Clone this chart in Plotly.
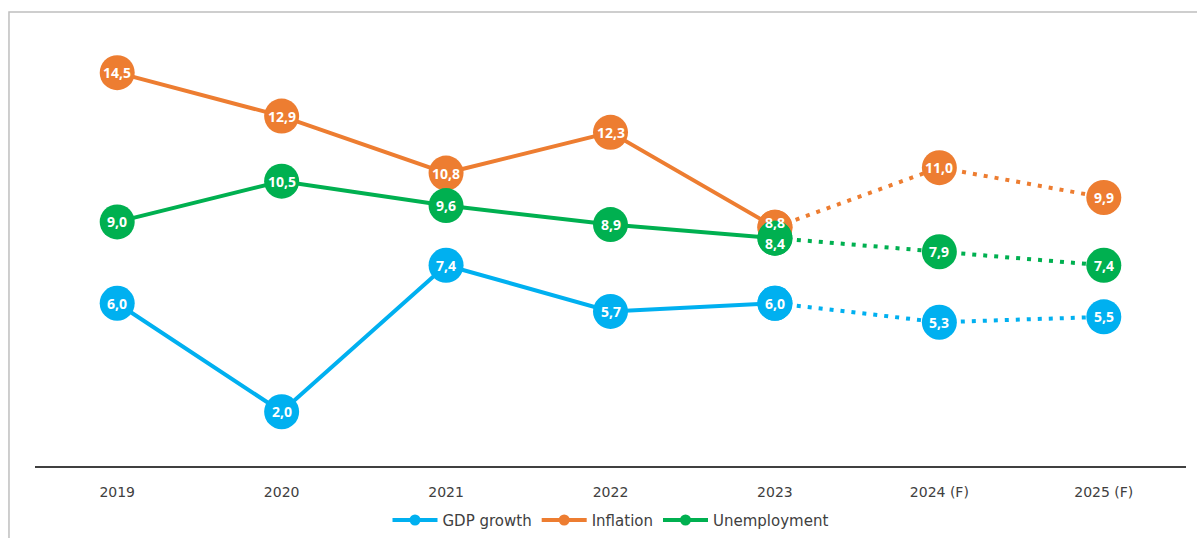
import plotly.graph_objects as go

years = ["2019", "2020", "2021", "2022", "2023", "2024 (F)", "2025 (F)"]
gdp = [6.0, 2.0, 7.4, 5.7, 6.0, 5.3, 5.5]
inflation = [14.5, 12.9, 10.8, 12.3, 8.8, 11.0, 9.9]
unemployment = [9.0, 10.5, 9.6, 8.9, 8.4, 7.9, 7.4]

series = [
    ("GDP growth", gdp, "#00B0F0"),
    ("Inflation", inflation, "#ED7D31"),
    ("Unemployment", unemployment, "#00B050"),
]

ACTUAL = 5  # 2019..2023 actual, 2024-2025 forecast

def fmt(v):
    return f"{v:.1f}".replace(".", ",")

fig = go.Figure()

for name, vals, col in series:
    fig.add_trace(go.Scatter(
        x=years[:ACTUAL], y=vals[:ACTUAL], mode="lines+markers",
        line=dict(color=col, width=4),
        marker=dict(size=35, color=col, line=dict(width=0)),
        showlegend=False, hoverinfo="skip", cliponaxis=False))
    fig.add_trace(go.Scatter(
        x=years[ACTUAL - 1:], y=vals[ACTUAL - 1:], mode="lines+markers",
        line=dict(color=col, width=4, dash="4px,7px"),
        marker=dict(size=35, color=col, line=dict(width=0)),
        showlegend=False, hoverinfo="skip", cliponaxis=False))

# legend entries
for name, vals, col in series:
    fig.add_trace(go.Scatter(
        x=[None], y=[None], mode="lines+markers", name=name,
        line=dict(color=col, width=4),
        marker=dict(size=11, color=col)))

# value labels as annotations; nudge apart labels that sit too close
annotations = []
for i, yr in enumerate(years):
    pts = [(vals[i], k) for k, (_, vals, _) in enumerate(series)]
    for v, k in pts:
        shift = 0
        for v2, k2 in pts:
            if k2 != k and abs(v2 - v) < 0.8:
                shift = 5 if v > v2 else -5
        annotations.append(dict(
            x=i, y=v, xref="x", yref="y", text=fmt(v), showarrow=False,
            yshift=shift,
            font=dict(color="white", size=14, family="Open Sans", weight="bold")))

fig.update_layout(
    width=1197, height=538,
    margin=dict(l=35, r=11, t=32, b=72, autoexpand=False),
    paper_bgcolor="white", plot_bgcolor="white",
    font=dict(family="DejaVu Sans", color="#404040"),
    xaxis=dict(
        type="category", showgrid=False, zeroline=False,
        showline=True, linecolor="#404040", linewidth=2,
        ticks="", tickfont=dict(size=14, color="#404040"),
        ticklabelstandoff=12,
        range=[-0.5, 6.5], fixedrange=True),
    yaxis=dict(
        range=[0, 16], showgrid=False, zeroline=False, showline=False,
        showticklabels=False, ticks="", fixedrange=True),
    legend=dict(
        orientation="h", x=0.5, xanchor="center",
        yref="container", y=0.033, yanchor="middle",
        font=dict(size=15, color="#404040"), itemwidth=45,
        traceorder="normal"),
    annotations=annotations,
    shapes=[dict(
        type="rect", xref="paper", yref="paper",
        x0=-0.0226, x1=1.05, y0=-0.3, y1=1.046,
        line=dict(color="#bfbfbf", width=1.5), fillcolor="rgba(0,0,0,0)",
        layer="below")],
)

fig.write_html("out.html")
